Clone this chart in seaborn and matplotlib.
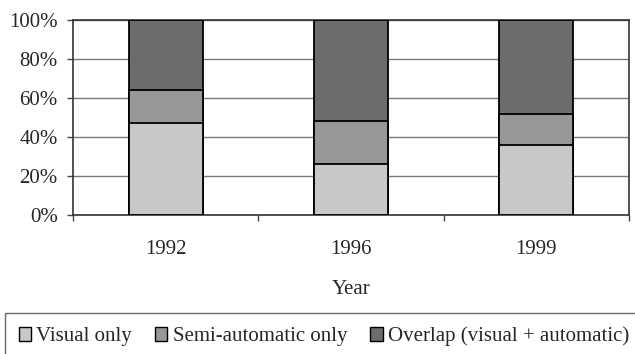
import matplotlib.pyplot as plt
import pandas as pd
import seaborn as sns
from matplotlib.patches import Patch
from matplotlib.ticker import FixedLocator, PercentFormatter

years = ["1992", "1996", "1999"]
visual_only = [47, 26, 36]
semi_auto_only = [17, 22, 16]
overlap = [36, 52, 48]

series_names = ["Visual only", "Semi-automatic only", "Overlap (visual + automatic)"]
colors = ["#c8c8c8", "#979797", "#6c6c6c"]

sns.set_theme(style="white")
plt.rcParams["font.family"] = ["Liberation Serif", "DejaVu Serif"]
plt.rcParams["font.size"] = 15

df = pd.DataFrame({
    "year": years,
    "visual": visual_only,
    "semi": semi_auto_only,
    "overlap": overlap,
})
df["c1"] = df["visual"]
df["c2"] = df["visual"] + df["semi"]
df["c3"] = df["c2"] + df["overlap"]

fig = plt.figure(figsize=(6.35, 3.54), dpi=100)
ax = fig.add_axes([73 / 635, 1 - 215 / 354, 556 / 635, 195 / 354])

# draw tallest stack first so the lower segments sit on top of it
for col, color in zip(["c3", "c2", "c1"], colors[::-1]):
    sns.barplot(data=df, x="year", y=col, color=color, width=0.4,
                edgecolor="black", linewidth=1.3, saturation=1, ax=ax, zorder=3)

ax.set_ylim(0, 100)
ax.set_xlim(-0.5, 2.5)
ax.yaxis.set_major_locator(FixedLocator([0, 20, 40, 60, 80, 100]))
ax.yaxis.set_major_formatter(PercentFormatter(decimals=0))
ax.grid(axis="y", color="#7a7a7a", linewidth=1.0, zorder=0)
ax.set_axisbelow(True)

ax.set_xlabel("Year", fontsize=15, labelpad=15)
ax.set_ylabel("")
ax.tick_params(axis="x", which="major", length=0, labelsize=15, pad=18)
ax.xaxis.set_minor_locator(FixedLocator([-0.5, 0.5, 1.5, 2.5]))
ax.tick_params(axis="x", which="minor", length=4, width=1, color="#444444",
               direction="out", bottom=True)
ax.tick_params(axis="y", length=4, width=1, color="#444444", direction="out",
               left=True, labelsize=15, pad=7)

for side in ["left", "right", "top", "bottom"]:
    ax.spines[side].set_visible(True)
    ax.spines[side].set_color("#333333")
    ax.spines[side].set_linewidth(1.2)

handles = [Patch(facecolor=c, edgecolor="black", linewidth=1.0) for c in colors]
leg = fig.legend(handles, series_names, loc="upper left",
                 bbox_to_anchor=(5 / 635, 1 - 313 / 354), ncol=3,
                 frameon=True, fancybox=False, fontsize=15,
                 handlelength=0.6, handleheight=0.6, handletextpad=0.25,
                 columnspacing=1.1, borderaxespad=0, borderpad=0.65)
leg.get_frame().set_edgecolor("#444444")
leg.get_frame().set_linewidth(1.0)

fig.savefig("out.png", dpi=100)
